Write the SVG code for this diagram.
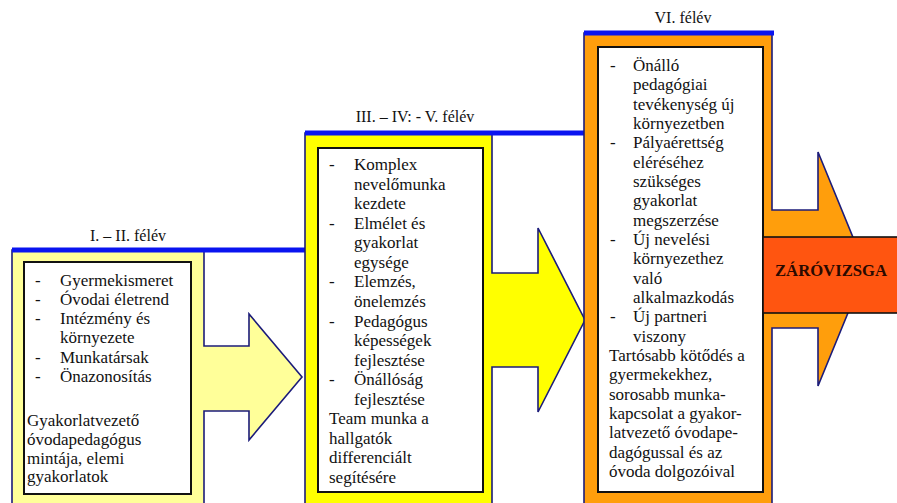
<svg xmlns="http://www.w3.org/2000/svg" width="897" height="503" viewBox="0 0 897 503">
<style>
.outline{stroke:#1c1c7a;stroke-width:1.6;stroke-linejoin:miter}
.topline{stroke:#0a14f0;stroke-width:5;fill:none}
.inner{fill:#ffffff;stroke:#111111;stroke-width:2}
text{font-family:'Liberation Serif','DejaVu Serif',serif}
.t{font-size:17px;fill:#111111}
.title{font-size:16px;fill:#111111;text-anchor:middle}
.exam{font-size:17px;font-weight:bold;fill:#2a0a00;text-anchor:middle}
</style>
<rect width="897" height="503" fill="#ffffff"/>
<g id="connectors"></g>
<g id="stage1">
  <path class="outline" fill="#ffff99" d="M12,250 L204,250 L204,346 L249,346 L249,314 L302,377 L249,440 L249,411 L204,411 L204,510 L12,510 Z"/>
  <line class="topline" x1="12" y1="250" x2="305" y2="250"/>
  <rect class="inner" x="24" y="262" width="167" height="232"/>
  <text class="title" x="128" y="241">I. – II. félév</text>
  <text class="t"><tspan x="35" y="286">-</tspan><tspan x="35" y="305">-</tspan><tspan x="35" y="324">-</tspan><tspan x="35" y="363">-</tspan><tspan x="35" y="382">-</tspan></text>
  <text class="t"><tspan x="60" y="286">Gyermekismeret</tspan><tspan x="60" y="305">Óvodai életrend</tspan><tspan x="60" y="324">Intézmény és</tspan><tspan x="60" y="343">környezete</tspan><tspan x="60" y="363">Munkatársak</tspan><tspan x="60" y="382">Önazonosítás</tspan></text>
  <text class="t"><tspan x="27" y="426">Gyakorlatvezető</tspan><tspan x="27" y="445">óvodapedagógus</tspan><tspan x="27" y="464">mintája, elemi</tspan><tspan x="27" y="482">gyakorlatok</tspan></text>
</g>
<g id="stage2">
  <path class="outline" fill="#ffff00" d="M305,133 L492,133 L492,273 L538,273 L538,228 L585,320 L538,412 L538,367 L492,367 L492,510 L305,510 Z"/>
  <line class="topline" x1="305" y1="133" x2="585" y2="133"/>
  <rect class="inner" x="318" y="148" width="165" height="344"/>
  <text class="title" x="415" y="122">III. – IV: - V. félév</text>
  <text class="t"><tspan x="329" y="170">-</tspan><tspan x="329" y="228.7">-</tspan><tspan x="329" y="287.4">-</tspan><tspan x="329" y="326.5">-</tspan><tspan x="329" y="385.2">-</tspan></text>
  <text class="t"><tspan x="354" y="170">Komplex</tspan><tspan x="354" y="189.6">nevelőmunka</tspan><tspan x="354" y="209.1">kezdete</tspan><tspan x="354" y="228.7">Elmélet és</tspan><tspan x="354" y="248.2">gyakorlat</tspan><tspan x="354" y="267.8">egysége</tspan><tspan x="354" y="287.4">Elemzés,</tspan><tspan x="354" y="306.9">önelemzés</tspan><tspan x="354" y="326.5">Pedagógus</tspan><tspan x="354" y="346">képességek</tspan><tspan x="354" y="365.6">fejlesztése</tspan><tspan x="354" y="385.2">Önállóság</tspan><tspan x="354" y="404.7">fejlesztése</tspan></text>
  <text class="t"><tspan x="329" y="424.3">Team munka a</tspan><tspan x="329" y="443.8">hallgatók</tspan><tspan x="329" y="463.4">differenciált</tspan><tspan x="329" y="483">segítésére</tspan></text>
</g>
<g id="stage3">
  <path class="outline" fill="#ff9e0c" d="M584,33 L772,33 L772,210 L818,210 L818,152 L866,269 L818,386 L818,328 L772,328 L772,510 L584,510 Z"/>
  <line class="topline" x1="584" y1="33" x2="774" y2="33"/>
  <rect class="inner" x="598" y="47" width="165" height="445"/>
  <text class="title" x="683" y="23">VI. félév</text>
  <text class="t"><tspan x="610" y="71">-</tspan><tspan x="610" y="148.3">-</tspan><tspan x="610" y="245">-</tspan><tspan x="610" y="322.3">-</tspan></text>
  <text class="t"><tspan x="633" y="71">Önálló</tspan><tspan x="633" y="90.3">pedagógiai</tspan><tspan x="633" y="109.7">tevékenység új</tspan><tspan x="633" y="129">környezetben</tspan><tspan x="633" y="148.3">Pályaérettség</tspan><tspan x="633" y="167.7">eléréséhez</tspan><tspan x="633" y="187">szükséges</tspan><tspan x="633" y="206.3">gyakorlat</tspan><tspan x="633" y="225.6">megszerzése</tspan><tspan x="633" y="245">Új nevelési</tspan><tspan x="633" y="264.3">környezethez</tspan><tspan x="633" y="283.6">való</tspan><tspan x="633" y="303">alkalmazkodás</tspan><tspan x="633" y="322.3">Új partneri</tspan><tspan x="633" y="341.6">viszony</tspan></text>
  <text class="t"><tspan x="609" y="361">Tartósabb kötődés a</tspan><tspan x="609" y="380.3">gyermekekhez,</tspan><tspan x="609" y="399.6">sorosabb munka-</tspan><tspan x="609" y="419">kapcsolat a gyakor-</tspan><tspan x="609" y="438.3">latvezető óvodape-</tspan><tspan x="609" y="457.6">dagógussal és az</tspan><tspan x="609" y="477">óvoda dolgozóival</tspan></text>
</g>
<g id="zarovizsga">
  <rect x="763" y="237" width="140" height="76" fill="#ff5510" stroke="#111111" stroke-width="1.6"/>
  <text class="exam" x="831" y="276" textLength="112" lengthAdjust="spacingAndGlyphs">ZÁRÓVIZSGA</text>
</g>
</svg>
